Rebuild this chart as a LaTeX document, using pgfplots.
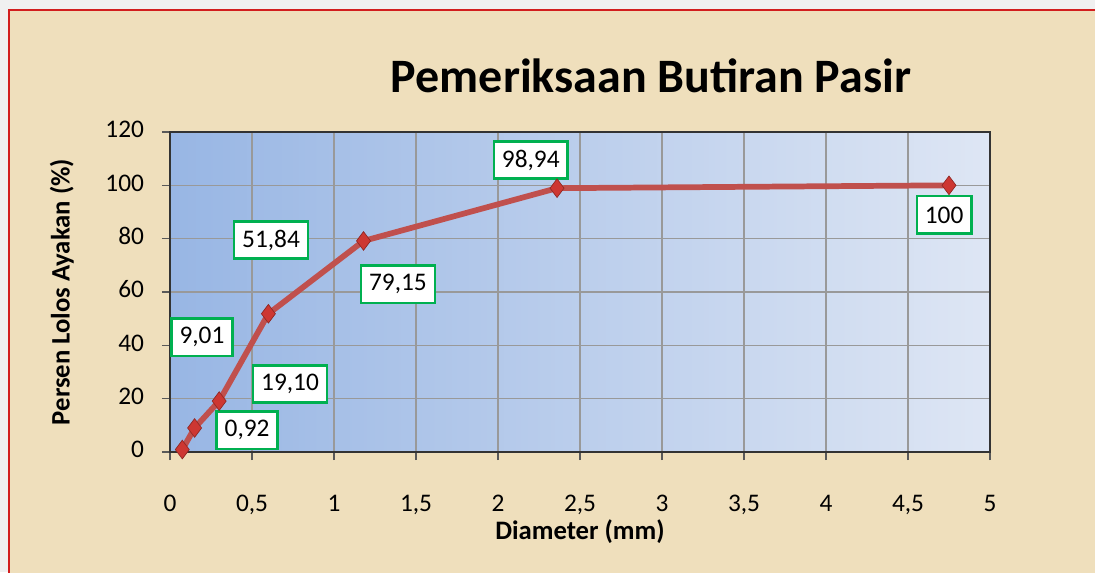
\documentclass[border=0pt]{standalone}
\usepackage{pgfplots}
\pgfplotsset{compat=1.18}
\usepackage{fontspec}
\setmainfont{Carlito}
\definecolor{parch}{RGB}{239,223,188}
\definecolor{frame}{RGB}{210,30,30}
\definecolor{lineR}{RGB}{192,80,77}
\definecolor{markR}{RGB}{205,55,50}
\definecolor{gbox}{RGB}{0,176,80}
\definecolor{bgL}{RGB}{152,182,228}
\definecolor{bgR}{RGB}{222,230,244}
\begin{document}
\begin{tikzpicture}[x=0.75pt,y=-0.75pt]
\useasboundingbox (0,0) rectangle (1095,572);
\fill[gray!12] (0,0) rectangle (1095,572);
\fill[parch] (9,10) rectangle (1100,580);
\draw[frame, line width=1.2pt] (9,580) -- (9,10) -- (1100,10);
\node[font=\fontsize{36}{42}\selectfont\bfseries] at (651,76) {Pemeriksaan Butiran Pasir};
\begin{axis}[
  at={(127.5pt,-339pt)}, anchor=south west,
  width=615pt, height=240pt, scale only axis,
  xmin=0, xmax=5, ymin=0, ymax=120,
  xtick={0,0.5,...,5}, ytick={0,20,...,120},
  /pgf/number format/use comma,
  /pgf/number format/assume math mode=true,
  tick label style={font=\fontsize{19}{22}\selectfont},
  xtick pos=bottom, ytick pos=left,
  tick align=outside, major tick length=6pt,
  tick style={gray!70!black, line width=0.8pt},
  typeset ticklabels with strut,
  xticklabel style={font=\fontsize{19}{22}\selectfont, yshift=-20pt},
  yticklabel style={font=\fontsize{19}{22}\selectfont, xshift=-10pt},
  grid=major, grid style={gray!80, line width=0.9pt},
  axis line style={black!80, line width=0.9pt},
  axis background/.style={shade, left color=bgL, right color=bgR},
  xlabel={Diameter (mm)}, ylabel={Persen Lolos Ayakan (\%)},
  every axis x label/.style={at={(axis description cs:0.5,-0.25)}, anchor=center, font=\fontsize{20}{24}\selectfont\bfseries},
  every axis y label/.style={at={(axis description cs:-0.132,0.5)}, anchor=center, rotate=90, font=\fontsize{20}{24}\selectfont\bfseries},
  clip=false,
]
\addplot[lineR, line width=4.3pt, mark=diamond*, mark size=7pt,
  mark options={fill=markR, draw=markR!70!black, line width=0.5pt}]
  coordinates {(0.075,0.92) (0.15,9.01) (0.3,19.10) (0.6,51.84) (1.18,79.15) (2.36,98.94) (4.75,100)};
\tikzset{lbl/.style={draw=gbox, line width=1.8pt, fill=white, font=\fontsize{19}{22}\selectfont, minimum height=28pt, inner xsep=6pt}}
\node[lbl] at (axis cs:2.20,109.5) {98,94};
\node[lbl] at (axis cs:4.72,88.9) {100};
\node[lbl] at (axis cs:0.616,79.5) {51,84};
\node[lbl] at (axis cs:1.39,62.9) {79,15};
\node[lbl] at (axis cs:0.195,43.1) {9,01};
\node[lbl] at (axis cs:0.732,25.5) {19,10};
\node[lbl] at (axis cs:0.470,8.2) {0,92};
\end{axis}
\end{tikzpicture}
\end{document}
